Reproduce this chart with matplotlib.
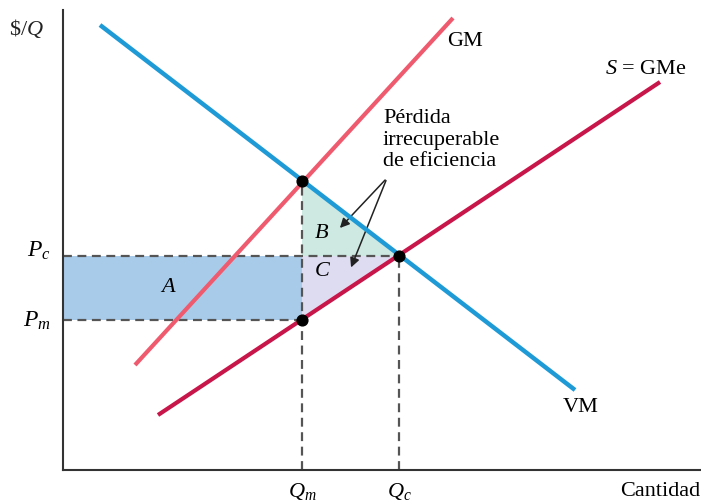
import matplotlib.pyplot as plt
from matplotlib.patches import Polygon, Rectangle

# Coordenadas en unidades del grafico (origen en la esquina de los ejes)
vm_x = [37, 512]
vm_y = [445, 80]
gm_x = [72, 390]
gm_y = [105, 452]
s_x = [95, 597]
s_y = [55, 388]

qm, qc = 239, 336
pm, pc = 150, 214
p_gm = 289  # VM = GM en Qm

puntos_x = [qm, qc, qm]
puntos_y = [p_gm, pc, pm]

plt.rcParams['font.family'] = ['Liberation Serif', 'DejaVu Serif']
plt.rcParams['mathtext.fontset'] = 'custom'
plt.rcParams['mathtext.rm'] = 'Liberation Serif'
plt.rcParams['mathtext.it'] = 'Liberation Serif:italic'

fig = plt.figure(figsize=(7.01, 5.04), dpi=100)
ax = fig.add_axes([63/701, 34/504, 637/701, 460/504])
ax.set_xlim(0, 637)
ax.set_ylim(0, 460)

# areas
ax.add_patch(Rectangle((0, pm), qm, pc - pm, facecolor='#a9cbea', edgecolor='none', zorder=1))
ax.add_patch(Polygon([[qm, p_gm], [qm, pc], [qc, pc]], facecolor='#cde9e2', edgecolor='none', zorder=1))
ax.add_patch(Polygon([[qm, pc], [qc, pc], [qm, pm]], facecolor='#dedcf0', edgecolor='none', zorder=1))

# lineas de guia
dash = dict(color='#555555', lw=1.6, ls=(0, (4, 2.5)), zorder=2)
ax.plot([0, qc], [pc, pc], **dash)
ax.plot([0, qm], [pm, pm], **dash)
ax.plot([qm, qm], [0, p_gm], **dash)
ax.plot([qc, qc], [0, pc], **dash)

# curvas
ax.plot(gm_x, gm_y, color='#ef5a6e', lw=3, solid_capstyle='butt', zorder=3)
ax.plot(s_x, s_y, color='#c8154a', lw=3, solid_capstyle='butt', zorder=3)
ax.plot(vm_x, vm_y, color='#1e9bd7', lw=3.2, solid_capstyle='butt', zorder=4)
ax.scatter(puntos_x, puntos_y, s=60, color='black', zorder=5)

for sp in ['top', 'right']:
    ax.spines[sp].set_visible(False)
for sp in ['left', 'bottom']:
    ax.spines[sp].set_color('#333333')
    ax.spines[sp].set_linewidth(1.5)
ax.set_xticks([])
ax.set_yticks([])

fs = 16
ax.text(-54, 441, r'\$/$Q$', fontsize=fs, ha='left', va='center', color='#222')
ax.text(-12, pc + 5, r'$P_c$', fontsize=fs + 1, ha='right', va='center')
ax.text(-12, pm - 1, r'$P_m$', fontsize=fs + 1, ha='right', va='center')
ax.text(qm, -22, r'$Q_m$', fontsize=fs, ha='center', va='center')
ax.text(qc, -22, r'$Q_c$', fontsize=fs, ha='center', va='center')
ax.text(637, -22, 'Cantidad', fontsize=fs, ha='right', va='center')
ax.text(105, 182, 'A', fontsize=fs, style='italic', ha='center', va='center')
ax.text(259, 237, 'B', fontsize=fs, style='italic', ha='center', va='center')
ax.text(259, 198, 'C', fontsize=fs, style='italic', ha='center', va='center')
ax.text(384, 428, 'GM', fontsize=fs, ha='left', va='center')
ax.text(542, 400, r'$S$ = GMe', fontsize=fs, ha='left', va='center')
ax.text(500, 63, 'VM', fontsize=fs, ha='left', va='center')
ax.text(320, 330, 'Pérdida\nirrecuperable\nde eficiencia', fontsize=fs,
        ha='left', va='center', linespacing=1.15)

arrow = dict(arrowstyle='-|>', color='#222', lw=1.1, mutation_scale=14)
ax.annotate('', xy=(275, 240), xytext=(324, 292), arrowprops=arrow)
ax.annotate('', xy=(287, 200), xytext=(324, 292), arrowprops=arrow)

fig.savefig('out.png', dpi=100)
